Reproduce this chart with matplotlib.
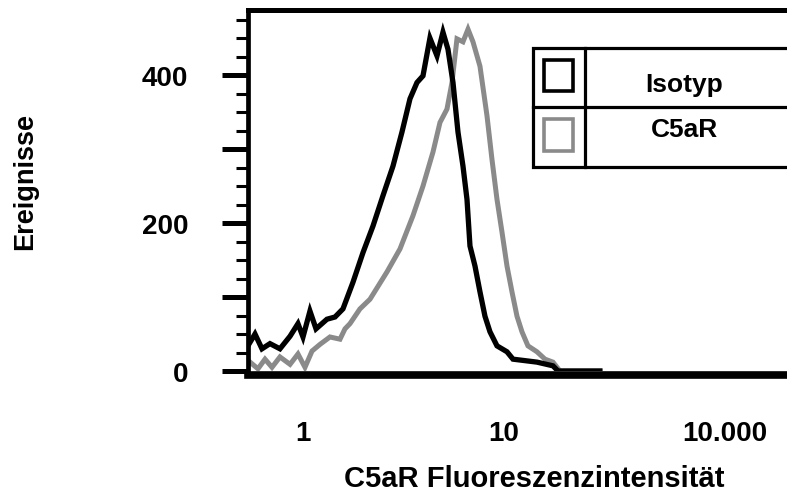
import matplotlib
matplotlib.use("Agg")
import matplotlib.pyplot as plt
from matplotlib.patches import Rectangle
from matplotlib.lines import Line2D
from matplotlib.ticker import FixedLocator, FixedFormatter, NullLocator

plt.rcParams['font.family'] = ['Liberation Sans', 'DejaVu Sans']
plt.rcParams['font.weight'] = 'bold'

# Isotyp histogram (black), intensity vs. events
isotyp_x = [0.532, 0.577, 0.625, 0.685, 0.768, 0.862, 0.944, 1.0, 1.083, 1.161,
            1.316, 1.443, 1.581, 1.773, 1.988, 2.230, 2.500, 2.804, 3.108, 3.407,
            3.692, 3.954, 4.282, 4.642, 4.971, 5.264, 5.576, 5.904, 6.252, 6.546,
            6.774, 7.173, 7.596, 8.044, 8.518, 9.231, 10.35, 11.09, 14.59, 17.53,
            18.57, 30.0]
isotyp_y = [34, 50, 30, 37, 30, 47, 64, 46, 81, 57,
            70, 73, 84, 120, 160, 196, 237, 277, 323, 368,
            390, 399, 450, 426, 458, 435, 390, 323, 277, 232,
            169, 142, 107, 74, 53, 34, 26, 16, 12, 7,
            0, 0]

# C5aR histogram (grey)
c5ar_x = [0.545, 0.597, 0.647, 0.701, 0.768, 0.862, 0.944, 1.023, 1.109, 1.215,
          1.362, 1.528, 1.618, 1.713, 1.921, 2.154, 2.618, 3.038, 3.526, 3.954,
          4.434, 4.804, 5.204, 5.512, 5.836, 6.252, 6.622, 7.011, 7.596, 8.232,
          8.716, 9.231, 9.772, 10.35, 10.96, 11.61, 12.29, 13.16, 14.59, 16.00,
          17.53, 18.99, 30.0]
c5ar_y = [12, 3, 16, 5, 19, 9, 23, 5, 27, 36,
          46, 43, 57, 64, 84, 97, 134, 165, 210, 250,
          296, 336, 354, 390, 449, 445, 462, 445, 412, 345,
          286, 232, 188, 142, 107, 74, 53, 34, 26, 16,
          12, 0, 0]

ytick_major = [0, 100, 200, 300, 400]
ytick_labels = ["0", "", "200", "", "400"]
ytick_minor = [25, 50, 75, 125, 150, 175, 225, 250, 275, 325, 350, 375, 425, 450, 475]
xtick_pos = [1, 10, 126]
xtick_labels = ["1", "10", "10.000"]
legend_labels = ["Isotyp", "C5aR"]
colors = ["black", "#8a8a8a"]

W, H = 787, 502


def fx(x):
    return x / W


def fy(y):
    return 1 - y / H


fig = plt.figure(figsize=(W / 100, H / 100), dpi=100)
ax = fig.add_axes([fx(247.5), fy(372), 1 - fx(247.5), (372 - 11) / H])

ax.plot(isotyp_x, isotyp_y, color=colors[0], lw=3.8, solid_joinstyle='miter', zorder=3)
ax.plot(c5ar_x, c5ar_y, color=colors[1], lw=3.6, solid_joinstyle='miter', zorder=2)

ax.set_xscale('log')
ax.set_xlim(0.5295, 256)
ax.set_ylim(0, 488)

ax.spines['right'].set_visible(False)
ax.spines['top'].set_linewidth(3.6)
ax.spines['left'].set_linewidth(3.4)
ax.spines['bottom'].set_linewidth(5.5)
ax.spines['bottom'].set_position(('outward', 3))

ax.xaxis.set_major_locator(FixedLocator(xtick_pos))
ax.xaxis.set_major_formatter(FixedFormatter(xtick_labels))
ax.xaxis.set_minor_locator(NullLocator())
ax.tick_params(axis='x', which='both', length=0, pad=32, labelsize=20)

ax.yaxis.set_major_locator(FixedLocator(ytick_major))
ax.yaxis.set_major_formatter(FixedFormatter(ytick_labels))
ax.yaxis.set_minor_locator(FixedLocator(ytick_minor))
ax.tick_params(axis='y', which='major', length=18.5, width=3.6, pad=24, labelsize=20)
ax.tick_params(axis='y', which='minor', length=9, width=2.2)

fig.text(fx(25), fy(181), "Ereignisse", rotation=90, ha='center', va='center', fontsize=19.5)
fig.text(fx(534), fy(479), "C5aR Fluoreszenzintensität", ha='center', va='center', fontsize=21)

# legend drawn as a small table, running off the right edge like the original
box = Rectangle((fx(533), fy(168)), fx(800) - fx(533), fy(49) - fy(168),
                transform=fig.transFigure, facecolor='white', edgecolor='black',
                lw=2.3, zorder=5)
fig.add_artist(box)
fig.add_artist(Line2D([fx(585), fx(585)], [fy(49), fy(168)], transform=fig.transFigure,
                      color='black', lw=2.3, zorder=6))
fig.add_artist(Line2D([fx(533), fx(800)], [fy(108), fy(108)], transform=fig.transFigure,
                      color='black', lw=2.3, zorder=6))
rows = [(61, 92, 85), (120, 152, 130)]
for (top, bot, ty), lab, col in zip(rows, legend_labels, colors):
    sq = Rectangle((fx(544), fy(bot)), fx(573) - fx(544), fy(top) - fy(bot),
                   transform=fig.transFigure, facecolor='white', edgecolor=col,
                   lw=2.6, zorder=7)
    fig.add_artist(sq)
    fig.text(fx(684), fy(ty), lab, ha='center', va='center', fontsize=19, zorder=7)

fig.savefig("out.png", dpi=100)
